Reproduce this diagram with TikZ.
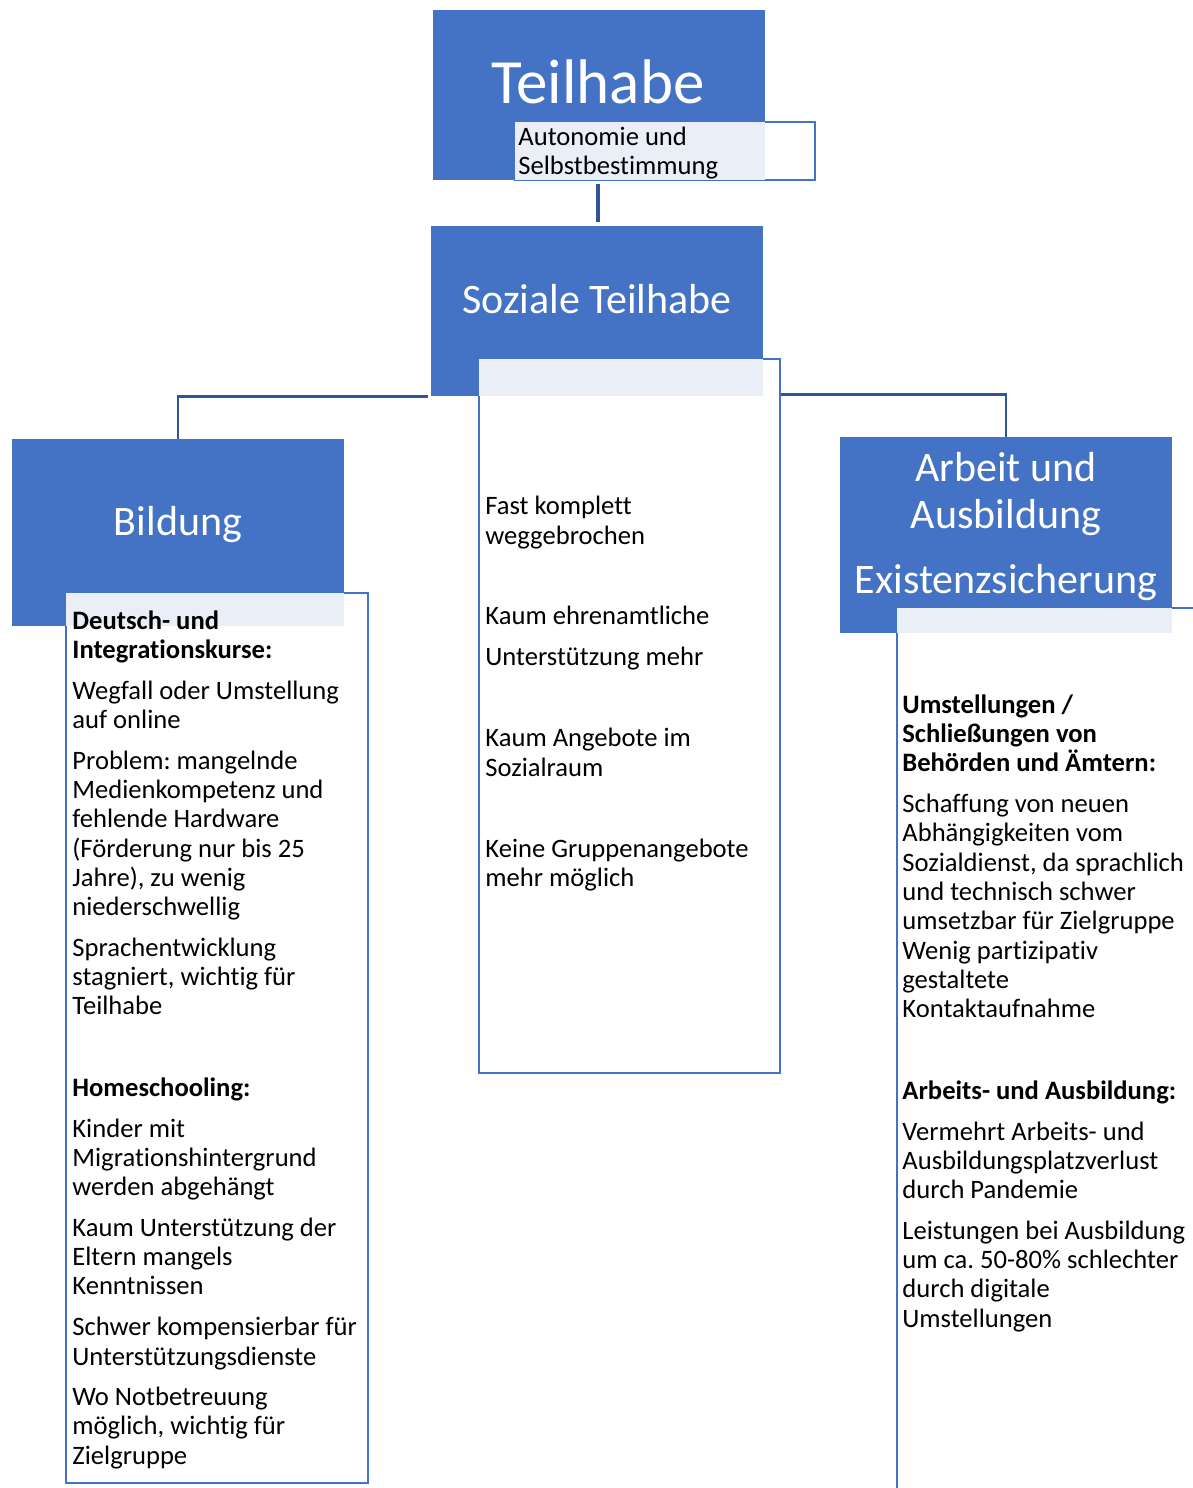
\documentclass[tikz,border=0pt]{standalone}
\usepackage{fontspec}
\setmainfont[Ligatures=NoCommon]{Carlito}
\usepackage{xcolor}
\usetikzlibrary{positioning}
\frenchspacing

\definecolor{hdblue}{HTML}{4472C4}
\definecolor{lnblue}{HTML}{2F5597}
\definecolor{pale}{HTML}{EAEFF7}

\tikzset{
	hd/.style={rectangle, fill=hdblue, inner sep=0, minimum width=166pt},
	ttl/.style={anchor=base, text=white, inner sep=0, font=\fontsize{21}{25}\selectfont},
	frame/.style={rectangle, draw=hdblue, line width=1.2pt, inner sep=0},
	txt/.style={anchor=base west, inner sep=0, yshift=-1pt, font=\fontsize{13.3}{14.5}\selectfont},
	conn/.style={draw=lnblue, line width=1.2pt}
}

\begin{document}
\begin{tikzpicture}[x=0.5pt, y=-0.5pt]
\clip (0,0) rectangle (1193,1488);
\fill[white] (0,0) rectangle (1193,1488);

% blue heads
\node[hd, minimum height=85pt] (teilhabe) at (599,95) {};
\node[hd, minimum height=85pt] (soziale) at (597,311) {};
\node[hd, minimum height=93.5pt] (bildung) at (178,532.5) {};
\node[hd, minimum height=98pt] (arbeit) at (1006,535) {};

% text frames
\node[frame, minimum width=150pt, minimum height=29pt] (auto) at (665,151) {};
\node[frame, minimum width=150.5pt, minimum height=357pt] (mitte) at (629.5,716) {};
\node[frame, minimum width=151pt, minimum height=445pt] (links) at (217,1038) {};
\node[frame, minimum width=161.5pt, minimum height=456pt] (rechts) at (1058.5,1064) {};

% pale overlap of frames and heads
\fill[pale] ([shift={(0.6pt,-0.6pt)}]auto.north west) rectangle (teilhabe.south east);
\fill[pale] ([shift={(0.6pt,-0.6pt)}]mitte.north west) rectangle (soziale.south east);
\fill[pale] ([shift={(0.6pt,-0.6pt)}]links.north west) rectangle (bildung.south east);
\fill[pale] ([shift={(0.6pt,-0.6pt)}]rechts.north west) rectangle (arbeit.south east);

% connectors
\draw[lnblue, line width=2pt, shorten <=2pt, shorten >=2pt] (teilhabe.south -| 598,0) -- (soziale.north -| 598,0);
\draw[conn] ([xshift=-1.5pt]soziale.south west) -| (bildung.north);
\draw[conn] ([yshift=1pt]mitte.east |- soziale.south) -| (arbeit.north);

% titles
\node[ttl, font=\fontsize{31.5}{36}\selectfont] (teilhabe-t) at (598,103) {Teilhabe};
\node[ttl] (soziale-t) at (597,313) {Soziale Teilhabe};
\node[ttl] (bildung-t) at (178,535) {Bildung};
\node[ttl] (arbeit-t1) at (1006,481) {Arbeit und};
\node[ttl] (arbeit-t2) at (1006,528) {Ausbildung};
\node[ttl] (arbeit-t3) at (1006,593) {Existenzsicherung};

\node[txt] (auto1) at (518,143) {Autonomie und};
\node[txt] (auto2) at (518,172) {Selbstbestimmung};

% Bildung
\foreach \y/\t in {627/{\textbf{Deutsch- und}}, 656/{\textbf{Integrationskurse:}},
	697/{Wegfall oder Umstellung}, 726/{auf online},
	767/{Problem: mangelnde}, 796/{Medienkompetenz und}, 825/{fehlende Hardware},
	855/{(Förderung nur bis 25}, 884/{Jahre), zu wenig}, 913/{niederschwellig},
	954/{Sprachentwicklung}, 983/{stagniert, wichtig für}, 1012/{Teilhabe},
	1094/{\textbf{Homeschooling:}},
	1135/{Kinder mit}, 1164/{Migrationshintergrund}, 1193/{werden abgehängt},
	1234/{Kaum Unterstützung der}, 1263/{Eltern mangels}, 1292/{Kenntnissen},
	1333/{Schwer kompensierbar für}, 1363/{Unterstützungsdienste},
	1403/{Wo Notbetreuung}, 1432/{möglich, wichtig für}, 1462/{Zielgruppe}} {
	\node[txt] (l\y) at (72,\y) {\t};
};

% Soziale Teilhabe
\foreach \y/\t in {512/{Fast komplett}, 542/{weggebrochen},
	622/{Kaum ehrenamtliche}, 663/{Unterstützung mehr},
	744/{Kaum Angebote im}, 774/{Sozialraum},
	855/{Keine Gruppenangebote}, 884/{mehr möglich}} {
	\node[txt] (m\y) at (485,\y) {\t};
};

% Arbeit und Ausbildung
\foreach \y/\t in {711/{\textbf{Umstellungen /}}, 740/{\textbf{Schließungen von}},
	769/{\textbf{Behörden und Ämtern:}},
	810/{Schaffung von neuen}, 839/{Abhängigkeiten vom}, 869/{Sozialdienst, da sprachlich},
	898/{und technisch schwer}, 927/{umsetzbar für Zielgruppe},
	957/{Wenig partizipativ}, 986/{gestaltete}, 1015/{Kontaktaufnahme},
	1097/{\textbf{Arbeits- und Ausbildung:}},
	1138/{Vermehrt Arbeits- und}, 1167/{Ausbildungsplatzverlust}, 1196/{durch Pandemie},
	1237/{Leistungen bei Ausbildung}, 1266/{um ca. 50-80\% schlechter},
	1295/{durch digitale}, 1325/{Umstellungen}} {
	\node[txt] (r\y) at (902,\y) {\t};
};
\end{tikzpicture}
\end{document}
